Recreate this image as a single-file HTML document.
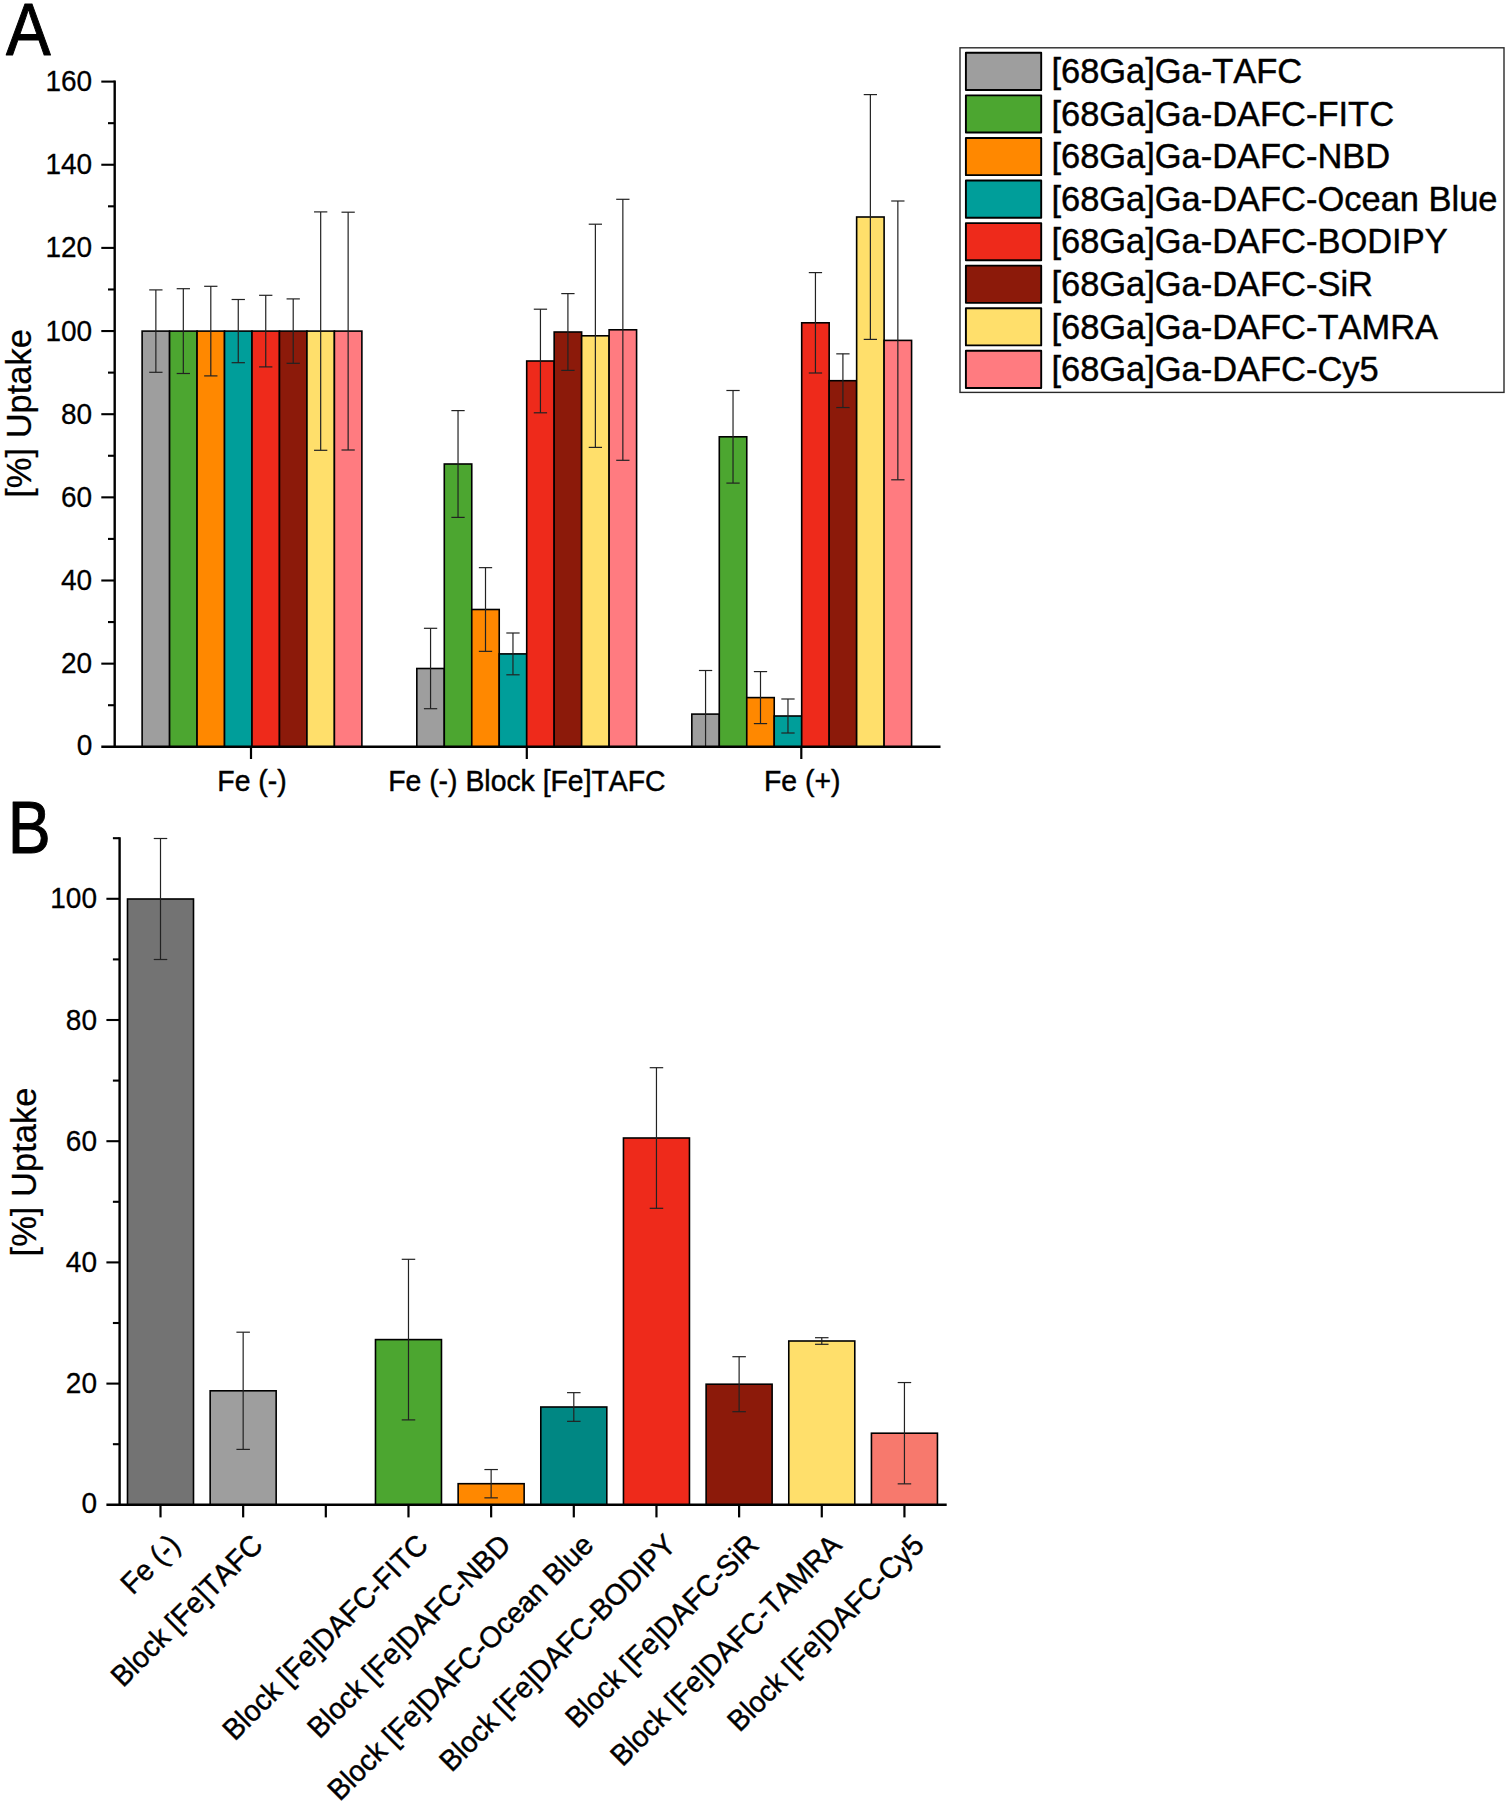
<!DOCTYPE html>
<html lang="en"><head><meta charset="utf-8"><title>Uptake charts</title>
<style>
html,body{margin:0;padding:0;background:#fff;}
svg{display:block;font-family:"Liberation Sans", sans-serif;fill:#000;}
text{stroke:#000;font-kerning:none;}
</style></head><body>
<svg width="1508" height="1806" viewBox="0 0 1508 1806">
<rect width="1508" height="1806" fill="#fff"/>
<g id="panelA">
<g stroke="#000" stroke-width="1.6">
<rect x="142.12" y="331.10" width="27.47" height="415.70" fill="#9E9E9E"/>
<rect x="169.59" y="331.10" width="27.47" height="415.70" fill="#4CA630"/>
<rect x="197.06" y="331.10" width="27.47" height="415.70" fill="#FF8800"/>
<rect x="224.53" y="331.10" width="27.47" height="415.70" fill="#009E9A"/>
<rect x="252.00" y="331.10" width="27.47" height="415.70" fill="#EE2A1B"/>
<rect x="279.47" y="331.10" width="27.47" height="415.70" fill="#8C1A0A"/>
<rect x="306.94" y="331.10" width="27.47" height="415.70" fill="#FFDF6B"/>
<rect x="334.41" y="331.10" width="27.47" height="415.70" fill="#FF7B80"/>
<rect x="416.82" y="668.50" width="27.47" height="78.30" fill="#9E9E9E"/>
<rect x="444.29" y="464.00" width="27.47" height="282.80" fill="#4CA630"/>
<rect x="471.76" y="609.50" width="27.47" height="137.30" fill="#FF8800"/>
<rect x="499.23" y="653.90" width="27.47" height="92.90" fill="#009E9A"/>
<rect x="526.70" y="361.00" width="27.47" height="385.80" fill="#EE2A1B"/>
<rect x="554.17" y="332.00" width="27.47" height="414.80" fill="#8C1A0A"/>
<rect x="581.64" y="335.80" width="27.47" height="411.00" fill="#FFDF6B"/>
<rect x="609.11" y="329.80" width="27.47" height="417.00" fill="#FF7B80"/>
<rect x="691.82" y="714.10" width="27.47" height="32.70" fill="#9E9E9E"/>
<rect x="719.29" y="436.80" width="27.47" height="310.00" fill="#4CA630"/>
<rect x="746.76" y="697.60" width="27.47" height="49.20" fill="#FF8800"/>
<rect x="774.23" y="716.00" width="27.47" height="30.80" fill="#009E9A"/>
<rect x="801.70" y="322.80" width="27.47" height="424.00" fill="#EE2A1B"/>
<rect x="829.17" y="380.70" width="27.47" height="366.10" fill="#8C1A0A"/>
<rect x="856.64" y="217.00" width="27.47" height="529.80" fill="#FFDF6B"/>
<rect x="884.11" y="340.40" width="27.47" height="406.40" fill="#FF7B80"/>
</g>
<g stroke="#222222" stroke-width="1.2">
<line x1="155.86" y1="289.90" x2="155.86" y2="372.30"/><line x1="149.21" y1="289.90" x2="162.51" y2="289.90"/><line x1="149.21" y1="372.30" x2="162.51" y2="372.30"/>
<line x1="183.32" y1="288.70" x2="183.32" y2="373.50"/><line x1="176.67" y1="288.70" x2="189.97" y2="288.70"/><line x1="176.67" y1="373.50" x2="189.97" y2="373.50"/>
<line x1="210.80" y1="286.30" x2="210.80" y2="375.90"/><line x1="204.15" y1="286.30" x2="217.45" y2="286.30"/><line x1="204.15" y1="375.90" x2="217.45" y2="375.90"/>
<line x1="238.26" y1="299.50" x2="238.26" y2="362.70"/><line x1="231.61" y1="299.50" x2="244.91" y2="299.50"/><line x1="231.61" y1="362.70" x2="244.91" y2="362.70"/>
<line x1="265.74" y1="295.30" x2="265.74" y2="366.90"/><line x1="259.09" y1="295.30" x2="272.38" y2="295.30"/><line x1="259.09" y1="366.90" x2="272.38" y2="366.90"/>
<line x1="293.21" y1="298.90" x2="293.21" y2="363.30"/><line x1="286.56" y1="298.90" x2="299.86" y2="298.90"/><line x1="286.56" y1="363.30" x2="299.86" y2="363.30"/>
<line x1="320.68" y1="211.90" x2="320.68" y2="450.30"/><line x1="314.03" y1="211.90" x2="327.32" y2="211.90"/><line x1="314.03" y1="450.30" x2="327.32" y2="450.30"/>
<line x1="348.14" y1="212.20" x2="348.14" y2="450.00"/><line x1="341.50" y1="212.20" x2="354.79" y2="212.20"/><line x1="341.50" y1="450.00" x2="354.79" y2="450.00"/>
<line x1="430.56" y1="628.30" x2="430.56" y2="708.70"/><line x1="423.91" y1="628.30" x2="437.21" y2="628.30"/><line x1="423.91" y1="708.70" x2="437.21" y2="708.70"/>
<line x1="458.03" y1="410.60" x2="458.03" y2="517.40"/><line x1="451.38" y1="410.60" x2="464.68" y2="410.60"/><line x1="451.38" y1="517.40" x2="464.68" y2="517.40"/>
<line x1="485.50" y1="567.65" x2="485.50" y2="651.35"/><line x1="478.85" y1="567.65" x2="492.15" y2="567.65"/><line x1="478.85" y1="651.35" x2="492.15" y2="651.35"/>
<line x1="512.97" y1="633.00" x2="512.97" y2="674.80"/><line x1="506.32" y1="633.00" x2="519.62" y2="633.00"/><line x1="506.32" y1="674.80" x2="519.62" y2="674.80"/>
<line x1="540.44" y1="309.20" x2="540.44" y2="412.80"/><line x1="533.79" y1="309.20" x2="547.09" y2="309.20"/><line x1="533.79" y1="412.80" x2="547.09" y2="412.80"/>
<line x1="567.91" y1="293.60" x2="567.91" y2="370.40"/><line x1="561.26" y1="293.60" x2="574.56" y2="293.60"/><line x1="561.26" y1="370.40" x2="574.56" y2="370.40"/>
<line x1="595.38" y1="224.20" x2="595.38" y2="447.40"/><line x1="588.73" y1="224.20" x2="602.03" y2="224.20"/><line x1="588.73" y1="447.40" x2="602.03" y2="447.40"/>
<line x1="622.85" y1="199.30" x2="622.85" y2="460.30"/><line x1="616.20" y1="199.30" x2="629.50" y2="199.30"/><line x1="616.20" y1="460.30" x2="629.50" y2="460.30"/>
<line x1="705.56" y1="670.50" x2="705.56" y2="746.80"/><line x1="698.91" y1="670.50" x2="712.21" y2="670.50"/>
<line x1="733.03" y1="390.50" x2="733.03" y2="483.10"/><line x1="726.38" y1="390.50" x2="739.68" y2="390.50"/><line x1="726.38" y1="483.10" x2="739.68" y2="483.10"/>
<line x1="760.50" y1="671.60" x2="760.50" y2="723.60"/><line x1="753.85" y1="671.60" x2="767.14" y2="671.60"/><line x1="753.85" y1="723.60" x2="767.14" y2="723.60"/>
<line x1="787.97" y1="699.00" x2="787.97" y2="733.00"/><line x1="781.32" y1="699.00" x2="794.62" y2="699.00"/><line x1="781.32" y1="733.00" x2="794.62" y2="733.00"/>
<line x1="815.44" y1="272.60" x2="815.44" y2="373.00"/><line x1="808.79" y1="272.60" x2="822.09" y2="272.60"/><line x1="808.79" y1="373.00" x2="822.09" y2="373.00"/>
<line x1="842.91" y1="353.85" x2="842.91" y2="407.55"/><line x1="836.26" y1="353.85" x2="849.56" y2="353.85"/><line x1="836.26" y1="407.55" x2="849.56" y2="407.55"/>
<line x1="870.38" y1="94.60" x2="870.38" y2="339.40"/><line x1="863.73" y1="94.60" x2="877.03" y2="94.60"/><line x1="863.73" y1="339.40" x2="877.03" y2="339.40"/>
<line x1="897.85" y1="201.00" x2="897.85" y2="479.80"/><line x1="891.20" y1="201.00" x2="904.50" y2="201.00"/><line x1="891.20" y1="479.80" x2="904.50" y2="479.80"/>
</g>
<g stroke="#000" stroke-width="2.4" stroke-linecap="butt">
<line x1="114.7" y1="80.55" x2="114.7" y2="748.00"/>
<line x1="101.30" y1="746.8" x2="940.5" y2="746.8"/>
<line x1="108.00" y1="705.22" x2="114.7" y2="705.22" stroke-width="2.1"/>
<line x1="101.30" y1="663.65" x2="114.7" y2="663.65" stroke-width="2.1"/>
<line x1="108.00" y1="622.07" x2="114.7" y2="622.07" stroke-width="2.1"/>
<line x1="101.30" y1="580.50" x2="114.7" y2="580.50" stroke-width="2.1"/>
<line x1="108.00" y1="538.92" x2="114.7" y2="538.92" stroke-width="2.1"/>
<line x1="101.30" y1="497.35" x2="114.7" y2="497.35" stroke-width="2.1"/>
<line x1="108.00" y1="455.77" x2="114.7" y2="455.77" stroke-width="2.1"/>
<line x1="101.30" y1="414.20" x2="114.7" y2="414.20" stroke-width="2.1"/>
<line x1="108.00" y1="372.62" x2="114.7" y2="372.62" stroke-width="2.1"/>
<line x1="101.30" y1="331.05" x2="114.7" y2="331.05" stroke-width="2.1"/>
<line x1="108.00" y1="289.47" x2="114.7" y2="289.47" stroke-width="2.1"/>
<line x1="101.30" y1="247.90" x2="114.7" y2="247.90" stroke-width="2.1"/>
<line x1="108.00" y1="206.32" x2="114.7" y2="206.32" stroke-width="2.1"/>
<line x1="101.30" y1="164.75" x2="114.7" y2="164.75" stroke-width="2.1"/>
<line x1="108.00" y1="123.17" x2="114.7" y2="123.17" stroke-width="2.1"/>
<line x1="101.30" y1="81.60" x2="114.7" y2="81.60" stroke-width="2.1"/>
<line x1="251.0" y1="746.8" x2="251.0" y2="759.00" stroke-width="2.2"/>
<line x1="526.8" y1="746.8" x2="526.8" y2="759.00" stroke-width="2.2"/>
<line x1="801.3" y1="746.8" x2="801.3" y2="759.00" stroke-width="2.2"/>
</g>
<text transform="translate(92.20,755.30) scale(0.94,1)" font-size="29.8" text-anchor="end" stroke-width="0.3">0</text>
<text transform="translate(92.20,673.15) scale(0.94,1)" font-size="29.8" text-anchor="end" stroke-width="0.3">20</text>
<text transform="translate(92.20,590.00) scale(0.94,1)" font-size="29.8" text-anchor="end" stroke-width="0.3">40</text>
<text transform="translate(92.20,506.85) scale(0.94,1)" font-size="29.8" text-anchor="end" stroke-width="0.3">60</text>
<text transform="translate(92.20,423.70) scale(0.94,1)" font-size="29.8" text-anchor="end" stroke-width="0.3">80</text>
<text transform="translate(92.20,340.55) scale(0.94,1)" font-size="29.8" text-anchor="end" stroke-width="0.3">100</text>
<text transform="translate(92.20,257.40) scale(0.94,1)" font-size="29.8" text-anchor="end" stroke-width="0.3">120</text>
<text transform="translate(92.20,174.25) scale(0.94,1)" font-size="29.8" text-anchor="end" stroke-width="0.3">140</text>
<text transform="translate(92.20,91.10) scale(0.94,1)" font-size="29.8" text-anchor="end" stroke-width="0.3">160</text>
<text class="xl" transform="translate(252.00,790.90) scale(0.962,1)" font-size="29.5" text-anchor="middle" stroke-width="0.45">Fe (-)</text>
<text class="xl" transform="translate(526.90,790.90) scale(0.962,1)" font-size="29.5" text-anchor="middle" stroke-width="0.45">Fe (-) Block [Fe]TAFC</text>
<text class="xl" transform="translate(802.20,790.90) scale(0.962,1)" font-size="29.5" text-anchor="middle" stroke-width="0.45">Fe (+)</text>
<text transform="translate(31.40,413.40) rotate(-90) scale(0.97,1)" font-size="35.6" text-anchor="middle" stroke-width="0.25">[%] Uptake</text>
<text transform="translate(5.90,55.00) scale(0.9,1)" font-size="74.4" stroke-width="1.0" stroke-linejoin="round">A</text>
</g>
<g id="legend">
<rect x="960" y="47.8" width="544" height="344.6" fill="#fff" stroke="#2a2a2a" stroke-width="1.4"/>
<rect x="965.9" y="52.80" width="75.3" height="37.2" fill="#9E9E9E" stroke="#000" stroke-width="1.9" stroke-linejoin="round"/>
<text class="lg" transform="translate(1051.40,83.20) scale(0.96,1)" font-size="35.9" stroke-width="0.45">[68Ga]Ga-TAFC</text>
<rect x="965.9" y="95.37" width="75.3" height="37.2" fill="#4CA630" stroke="#000" stroke-width="1.9" stroke-linejoin="round"/>
<text class="lg" transform="translate(1051.40,125.77) scale(0.96,1)" font-size="35.9" stroke-width="0.45">[68Ga]Ga-DAFC-FITC</text>
<rect x="965.9" y="137.94" width="75.3" height="37.2" fill="#FF8800" stroke="#000" stroke-width="1.9" stroke-linejoin="round"/>
<text class="lg" transform="translate(1051.40,168.34) scale(0.96,1)" font-size="35.9" stroke-width="0.45">[68Ga]Ga-DAFC-NBD</text>
<rect x="965.9" y="180.51" width="75.3" height="37.2" fill="#009E9A" stroke="#000" stroke-width="1.9" stroke-linejoin="round"/>
<text class="lg" transform="translate(1051.40,210.91) scale(0.96,1)" font-size="35.9" stroke-width="0.45">[68Ga]Ga-DAFC-Ocean Blue</text>
<rect x="965.9" y="223.08" width="75.3" height="37.2" fill="#EE2A1B" stroke="#000" stroke-width="1.9" stroke-linejoin="round"/>
<text class="lg" transform="translate(1051.40,253.48) scale(0.96,1)" font-size="35.9" stroke-width="0.45">[68Ga]Ga-DAFC-BODIPY</text>
<rect x="965.9" y="265.65" width="75.3" height="37.2" fill="#8C1A0A" stroke="#000" stroke-width="1.9" stroke-linejoin="round"/>
<text class="lg" transform="translate(1051.40,296.05) scale(0.96,1)" font-size="35.9" stroke-width="0.45">[68Ga]Ga-DAFC-SiR</text>
<rect x="965.9" y="308.22" width="75.3" height="37.2" fill="#FFDF6B" stroke="#000" stroke-width="1.9" stroke-linejoin="round"/>
<text class="lg" transform="translate(1051.40,338.62) scale(0.96,1)" font-size="35.9" stroke-width="0.45">[68Ga]Ga-DAFC-TAMRA</text>
<rect x="965.9" y="350.79" width="75.3" height="37.2" fill="#FF7B80" stroke="#000" stroke-width="1.9" stroke-linejoin="round"/>
<text class="lg" transform="translate(1051.40,381.19) scale(0.96,1)" font-size="35.9" stroke-width="0.45">[68Ga]Ga-DAFC-Cy5</text>
</g>
<g id="panelB">
<g stroke="#000" stroke-width="1.6">
<rect x="127.50" y="899.00" width="66.0" height="605.80" fill="#737373"/>
<rect x="210.16" y="1390.80" width="66.0" height="114.00" fill="#9E9E9E"/>
<rect x="375.48" y="1339.60" width="66.0" height="165.20" fill="#4CA630"/>
<rect x="458.14" y="1483.70" width="66.0" height="21.10" fill="#FF8800"/>
<rect x="540.80" y="1407.00" width="66.0" height="97.80" fill="#008783"/>
<rect x="623.46" y="1138.00" width="66.0" height="366.80" fill="#EE2A1B"/>
<rect x="706.12" y="1384.20" width="66.0" height="120.60" fill="#8C1A0A"/>
<rect x="788.78" y="1341.00" width="66.0" height="163.80" fill="#FFDF6B"/>
<rect x="871.44" y="1433.20" width="66.0" height="71.60" fill="#F7796D"/>
</g>
<g stroke="#222222" stroke-width="1.2">
<line x1="160.50" y1="838.50" x2="160.50" y2="959.50"/><line x1="153.75" y1="838.50" x2="167.25" y2="838.50"/><line x1="153.75" y1="959.50" x2="167.25" y2="959.50"/>
<line x1="243.16" y1="1332.20" x2="243.16" y2="1449.40"/><line x1="236.41" y1="1332.20" x2="249.91" y2="1332.20"/><line x1="236.41" y1="1449.40" x2="249.91" y2="1449.40"/>
<line x1="408.48" y1="1259.30" x2="408.48" y2="1419.90"/><line x1="401.73" y1="1259.30" x2="415.23" y2="1259.30"/><line x1="401.73" y1="1419.90" x2="415.23" y2="1419.90"/>
<line x1="491.14" y1="1469.55" x2="491.14" y2="1497.85"/><line x1="484.39" y1="1469.55" x2="497.89" y2="1469.55"/><line x1="484.39" y1="1497.85" x2="497.89" y2="1497.85"/>
<line x1="573.80" y1="1392.65" x2="573.80" y2="1421.35"/><line x1="567.05" y1="1392.65" x2="580.55" y2="1392.65"/><line x1="567.05" y1="1421.35" x2="580.55" y2="1421.35"/>
<line x1="656.46" y1="1067.70" x2="656.46" y2="1208.30"/><line x1="649.71" y1="1067.70" x2="663.21" y2="1067.70"/><line x1="649.71" y1="1208.30" x2="663.21" y2="1208.30"/>
<line x1="739.12" y1="1356.70" x2="739.12" y2="1411.70"/><line x1="732.37" y1="1356.70" x2="745.87" y2="1356.70"/><line x1="732.37" y1="1411.70" x2="745.87" y2="1411.70"/>
<line x1="821.78" y1="1337.70" x2="821.78" y2="1344.30"/><line x1="815.03" y1="1337.70" x2="828.53" y2="1337.70"/><line x1="815.03" y1="1344.30" x2="828.53" y2="1344.30"/>
<line x1="904.44" y1="1382.55" x2="904.44" y2="1483.85"/><line x1="897.69" y1="1382.55" x2="911.19" y2="1382.55"/><line x1="897.69" y1="1483.85" x2="911.19" y2="1483.85"/>
</g>
<g stroke="#000" stroke-width="2.4">
<line x1="119.6" y1="837.15" x2="119.6" y2="1506.00"/>
<line x1="106.40" y1="1504.8" x2="946.7" y2="1504.8"/>
<line x1="112.90" y1="1444.20" x2="119.6" y2="1444.20" stroke-width="2.1"/>
<line x1="106.40" y1="1383.60" x2="119.6" y2="1383.60" stroke-width="2.1"/>
<line x1="112.90" y1="1323.00" x2="119.6" y2="1323.00" stroke-width="2.1"/>
<line x1="106.40" y1="1262.40" x2="119.6" y2="1262.40" stroke-width="2.1"/>
<line x1="112.90" y1="1201.80" x2="119.6" y2="1201.80" stroke-width="2.1"/>
<line x1="106.40" y1="1141.20" x2="119.6" y2="1141.20" stroke-width="2.1"/>
<line x1="112.90" y1="1080.60" x2="119.6" y2="1080.60" stroke-width="2.1"/>
<line x1="106.40" y1="1020.00" x2="119.6" y2="1020.00" stroke-width="2.1"/>
<line x1="112.90" y1="959.40" x2="119.6" y2="959.40" stroke-width="2.1"/>
<line x1="106.40" y1="898.80" x2="119.6" y2="898.80" stroke-width="2.1"/>
<line x1="112.90" y1="838.20" x2="119.6" y2="838.20" stroke-width="2.1"/>
<line x1="160.50" y1="1504.8" x2="160.50" y2="1517.40" stroke-width="2.2"/>
<line x1="243.16" y1="1504.8" x2="243.16" y2="1517.40" stroke-width="2.2"/>
<line x1="325.82" y1="1504.8" x2="325.82" y2="1517.40" stroke-width="2.2"/>
<line x1="408.48" y1="1504.8" x2="408.48" y2="1517.40" stroke-width="2.2"/>
<line x1="491.14" y1="1504.8" x2="491.14" y2="1517.40" stroke-width="2.2"/>
<line x1="573.80" y1="1504.8" x2="573.80" y2="1517.40" stroke-width="2.2"/>
<line x1="656.46" y1="1504.8" x2="656.46" y2="1517.40" stroke-width="2.2"/>
<line x1="739.12" y1="1504.8" x2="739.12" y2="1517.40" stroke-width="2.2"/>
<line x1="821.78" y1="1504.8" x2="821.78" y2="1517.40" stroke-width="2.2"/>
<line x1="904.44" y1="1504.8" x2="904.44" y2="1517.40" stroke-width="2.2"/>
</g>
<text transform="translate(97.00,1513.10) scale(0.94,1)" font-size="29.8" text-anchor="end" stroke-width="0.3">0</text>
<text transform="translate(97.00,1393.10) scale(0.94,1)" font-size="29.8" text-anchor="end" stroke-width="0.3">20</text>
<text transform="translate(97.00,1271.90) scale(0.94,1)" font-size="29.8" text-anchor="end" stroke-width="0.3">40</text>
<text transform="translate(97.00,1150.70) scale(0.94,1)" font-size="29.8" text-anchor="end" stroke-width="0.3">60</text>
<text transform="translate(97.00,1029.50) scale(0.94,1)" font-size="29.8" text-anchor="end" stroke-width="0.3">80</text>
<text transform="translate(97.00,908.30) scale(0.94,1)" font-size="29.8" text-anchor="end" stroke-width="0.3">100</text>
<text class="bl" transform="translate(181.80,1546.80) rotate(-45) scale(0.962,1)" font-size="29.5" text-anchor="end" stroke-width="0.45">Fe (-)</text>
<text class="bl" transform="translate(264.46,1546.80) rotate(-45) scale(0.962,1)" font-size="29.5" text-anchor="end" stroke-width="0.45">Block [Fe]TAFC</text>
<text class="bl" transform="translate(429.78,1546.80) rotate(-45) scale(0.962,1)" font-size="29.5" text-anchor="end" stroke-width="0.45">Block [Fe]DAFC-FITC</text>
<text class="bl" transform="translate(512.44,1546.80) rotate(-45) scale(0.962,1)" font-size="29.5" text-anchor="end" stroke-width="0.45">Block [Fe]DAFC-NBD</text>
<text class="bl" transform="translate(595.10,1546.80) rotate(-45) scale(0.962,1)" font-size="29.5" text-anchor="end" stroke-width="0.45">Block [Fe]DAFC-Ocean Blue</text>
<text class="bl" transform="translate(677.76,1546.80) rotate(-45) scale(0.962,1)" font-size="29.5" text-anchor="end" stroke-width="0.45">Block [Fe]DAFC-BODIPY</text>
<text class="bl" transform="translate(760.42,1546.80) rotate(-45) scale(0.962,1)" font-size="29.5" text-anchor="end" stroke-width="0.45">Block [Fe]DAFC-SiR</text>
<text class="bl" transform="translate(843.08,1546.80) rotate(-45) scale(0.962,1)" font-size="29.5" text-anchor="end" stroke-width="0.45">Block [Fe]DAFC-TAMRA</text>
<text class="bl" transform="translate(925.74,1546.80) rotate(-45) scale(0.962,1)" font-size="29.5" text-anchor="end" stroke-width="0.45">Block [Fe]DAFC-Cy5</text>
<text transform="translate(36.10,1172.00) rotate(-90) scale(0.97,1)" font-size="35.6" text-anchor="middle" stroke-width="0.25">[%] Uptake</text>
<text transform="translate(7.72,853.00) scale(0.866,1)" font-size="74.4" stroke-width="1.0" stroke-linejoin="round">B</text>
</g>
</svg>
</body></html>
